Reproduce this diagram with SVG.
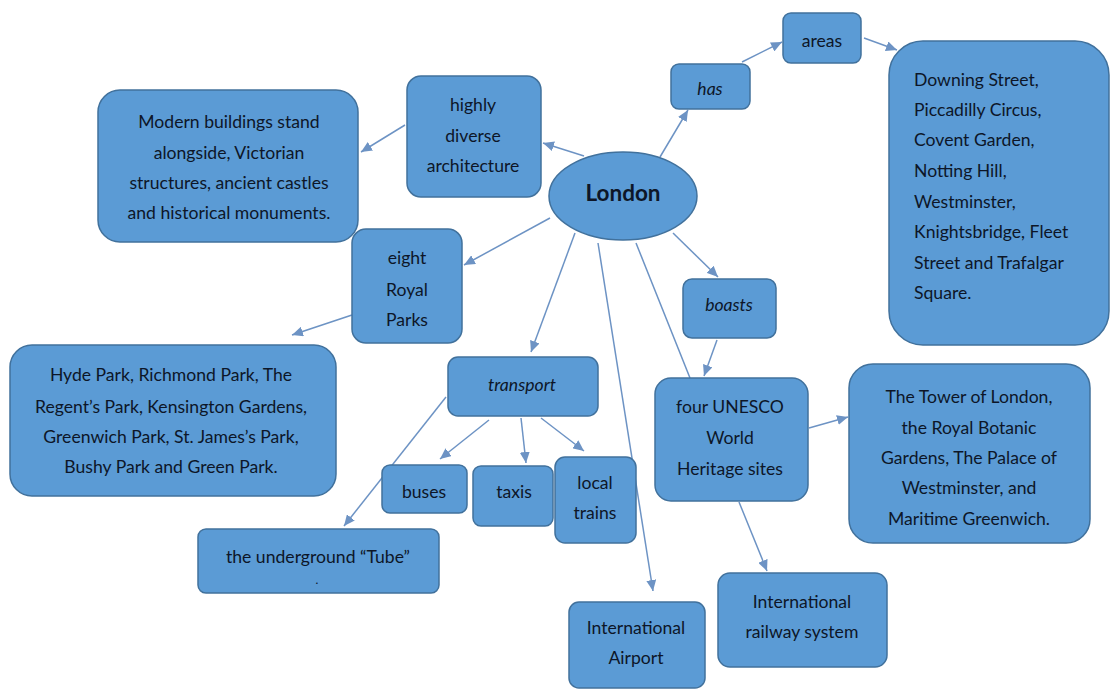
<svg xmlns="http://www.w3.org/2000/svg" width="1110" height="691" viewBox="0 0 1110 691">
<style>
.n{fill:#5b9bd5;stroke:#41719c;stroke-width:1.5}
.t{font-family:Lato,"Liberation Sans",sans-serif;font-size:17.6px;fill:#0d1628;text-anchor:middle}
.l{text-anchor:start}
.i{font-style:italic}
.c{fill:none;stroke:#6d93c4;stroke-width:1.5;marker-end:url(#ah)}
.p{fill:none;stroke:#6d93c4;stroke-width:1.5}
</style>
<defs>
<marker id="ah" markerUnits="userSpaceOnUse" markerWidth="12" markerHeight="10" refX="11" refY="5" orient="auto">
<path d="M0,0 L11,5 L0,10 Z" fill="#6d93c4"/>
</marker>
</defs>
<rect width="1110" height="691" fill="#ffffff"/>
<g id="connectors">
<path class="c" d="M584,156 L543,143"/>
<path class="c" d="M405,125 L361,152"/>
<path class="c" d="M550,218 L464,265"/>
<path class="c" d="M352,315 L292,335"/>
<path class="c" d="M575,233 L531,352"/>
<path class="c" d="M660,157 L688,110"/>
<path class="c" d="M742,62 L782,42"/>
<path class="c" d="M864,38 L897,50"/>
<path class="c" d="M673,233 L718,277"/>
<path class="c" d="M717,340 L704,376"/>
<path class="p" d="M636,243 L690,378"/>
<path class="c" d="M598,243 L653,591"/>
<path class="c" d="M446,397 L344,526"/>
<path class="c" d="M489,420 L440,459"/>
<path class="c" d="M521,418 L526,463"/>
<path class="c" d="M541,418 L584,451"/>
<path class="c" d="M809,428 L848,417"/>
<path class="c" d="M739,502 L767,571"/>
</g>
<g id="london">
<ellipse class="n" cx="623" cy="196" rx="74" ry="44"/>
<text class="t" x="623" y="201" style="font-weight:bold;font-size:22.5px">London</text>
</g>
<g id="highly">
<rect class="n" x="407" y="76" width="134" height="121" rx="14"/>
<text class="t" x="473" y="111">highly</text>
<text class="t" x="473" y="142">diverse</text>
<text class="t" x="473" y="172">architecture</text>
</g>
<g id="modern">
<rect class="n" x="98" y="90" width="260" height="152" rx="22"/>
<text class="t" x="229" y="128">Modern buildings stand</text>
<text class="t" x="229" y="159">alongside, Victorian</text>
<text class="t" x="229" y="189">structures, ancient castles</text>
<text class="t" x="229" y="219">and historical monuments.</text>
</g>
<g id="eight">
<rect class="n" x="352" y="229" width="110" height="114" rx="14"/>
<text class="t" x="407" y="264">eight</text>
<text class="t" x="407" y="296">Royal</text>
<text class="t" x="407" y="326">Parks</text>
</g>
<g id="hyde">
<rect class="n" x="10" y="345" width="326" height="151" rx="22"/>
<text class="t" x="171" y="381">Hyde Park, Richmond Park, The</text>
<text class="t" x="171" y="413">Regent’s Park, Kensington Gardens,</text>
<text class="t" x="171" y="443">Greenwich Park, St. James’s Park,</text>
<text class="t" x="171" y="473">Bushy Park and Green Park.</text>
</g>
<g id="has">
<rect class="n" x="671" y="64" width="79" height="45" rx="8"/>
<text class="t i" x="710" y="95">has</text>
</g>
<g id="areas">
<rect class="n" x="783" y="13" width="78" height="50" rx="8"/>
<text class="t" x="822" y="47">areas</text>
</g>
<g id="downing">
<rect class="n" x="889" y="41" width="220" height="304" rx="34"/>
<text class="t l" x="914" y="86">Downing Street,</text>
<text class="t l" x="914" y="116">Piccadilly Circus,</text>
<text class="t l" x="914" y="146">Covent Garden,</text>
<text class="t l" x="914" y="177">Notting Hill,</text>
<text class="t l" x="914" y="208">Westminster,</text>
<text class="t l" x="914" y="238">Knightsbridge, Fleet</text>
<text class="t l" x="914" y="269">Street and Trafalgar</text>
<text class="t l" x="914" y="299">Square.</text>
</g>
<g id="boasts">
<rect class="n" x="683" y="279" width="93" height="59" rx="9"/>
<text class="t i" x="729" y="311">boasts</text>
</g>
<g id="transport">
<rect class="n" x="448" y="357" width="150" height="59" rx="10"/>
<text class="t i" x="522" y="391">transport</text>
</g>
<g id="buses">
<rect class="n" x="382" y="465" width="85" height="48" rx="8"/>
<text class="t" x="424" y="498">buses</text>
</g>
<g id="taxis">
<rect class="n" x="473" y="466" width="80" height="60" rx="8"/>
<text class="t" x="514" y="498">taxis</text>
</g>
<g id="local">
<rect class="n" x="555" y="457" width="81" height="86" rx="10"/>
<text class="t" x="595" y="489">local</text>
<text class="t" x="595" y="519">trains</text>
</g>
<g id="tube">
<rect class="n" x="198" y="529" width="241" height="64" rx="8"/>
<text class="t" x="318" y="563">the underground “Tube”</text>
<text class="t" x="317" y="584" style="font-size:12px">.</text>
</g>
<g id="unesco">
<rect class="n" x="655" y="378" width="153" height="123" rx="16"/>
<text class="t" x="730" y="413">four UNESCO</text>
<text class="t" x="730" y="444">World</text>
<text class="t" x="730" y="475">Heritage sites</text>
</g>
<g id="tower">
<rect class="n" x="849" y="364" width="241" height="179" rx="24"/>
<text class="t" x="969" y="403">The Tower of London,</text>
<text class="t" x="969" y="434">the Royal Botanic</text>
<text class="t" x="969" y="464">Gardens, The Palace of</text>
<text class="t" x="969" y="494">Westminster, and</text>
<text class="t" x="969" y="525">Maritime Greenwich.</text>
</g>
<g id="rail">
<rect class="n" x="718" y="573" width="169" height="94" rx="12"/>
<text class="t" x="802" y="608">International</text>
<text class="t" x="802" y="638">railway system</text>
</g>
<g id="airport">
<rect class="n" x="569" y="602" width="136" height="86" rx="10"/>
<text class="t" x="636" y="634">International</text>
<text class="t" x="636" y="664">Airport</text>
</g>
</svg>
